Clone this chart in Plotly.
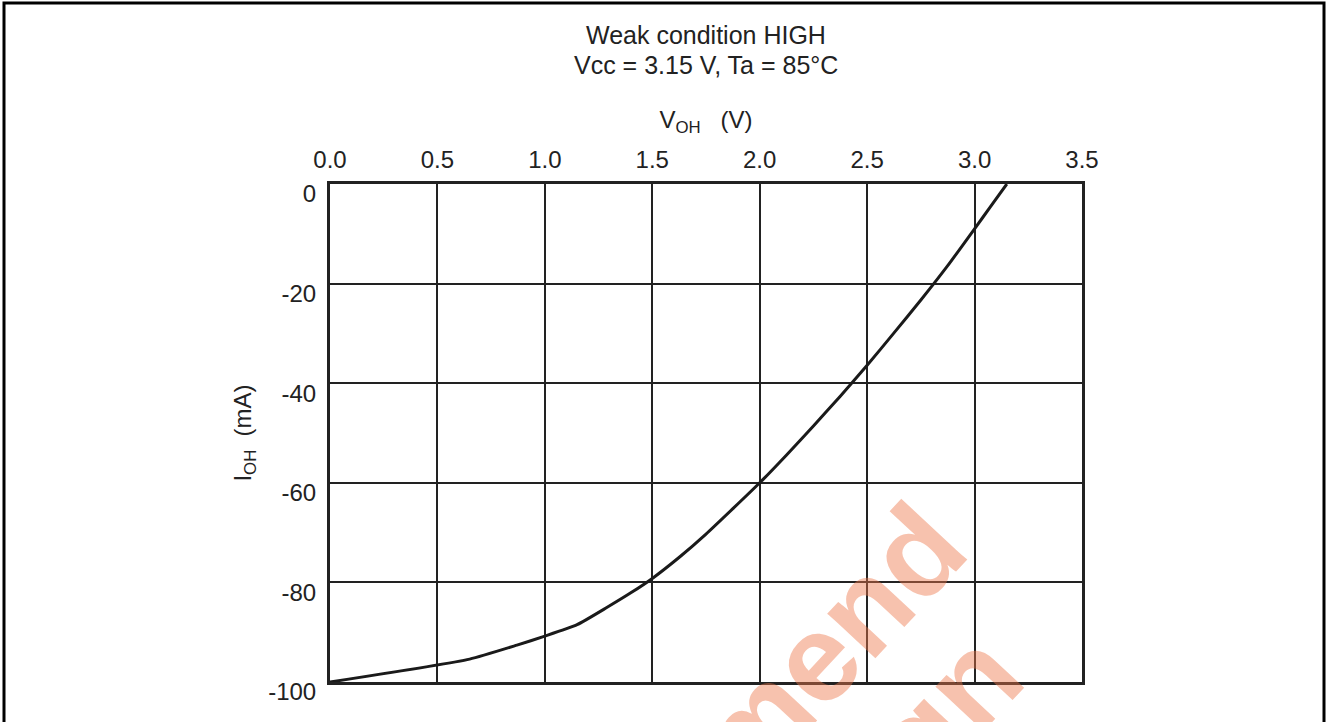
import plotly.graph_objects as go

# Data
v_oh = [0.0, 0.65, 0.87, 1.0, 1.15, 1.29, 1.4, 1.5, 1.63, 1.75, 1.875, 2.0, 2.125, 2.25, 2.375,
        2.5, 2.625, 2.75, 2.875, 3.0, 3.075, 3.15]
i_oh = [-100.0, -95.4, -92.6, -90.8, -88.5, -85.0, -82.1, -79.2, -74.8, -70.3, -65.2, -60.0, -54.4,
        -48.6, -42.6, -36.4, -29.9, -23.3, -16.4, -9.0, -4.5, 0.0]

x_ticks = [0.0, 0.5, 1.0, 1.5, 2.0, 2.5, 3.0, 3.5]
y_ticks = [0, -20, -40, -60, -80, -100]

title_lines = ["Weak condition HIGH", "Vcc = 3.15 V, Ta = 85°C"]
watermark_lines = ["Not Recommend", "for New Design"]

FONT = "Arial, Liberation Sans, sans-serif"
W, H = 1328, 722
L, R, T, B = 330, 246, 184, 40
pw, ph = W - L - R, H - T - B

def px2paper(px, py):
    return (px - L) / pw, (H - B - py) / ph

fig = go.Figure()
fig.add_trace(go.Scatter(x=v_oh, y=i_oh, mode="lines",
                         line=dict(color="#1a1a1a", width=3, shape="spline", smoothing=0.5),
                         showlegend=False, hoverinfo="skip"))

fig.update_layout(
    width=W, height=H,
    margin=dict(l=L, r=R, t=T, b=B, autoexpand=False),
    paper_bgcolor="white", plot_bgcolor="white",
    font=dict(family=FONT, size=24, color="#222"),
    xaxis=dict(side="top", range=[0, 3.5], tickvals=x_ticks,
               ticktext=[f"{t:.1f}" for t in x_ticks],
               tickfont=dict(size=24),
               showgrid=True, gridcolor="#222", gridwidth=2,
               showline=True, linecolor="#222", linewidth=3, mirror=True,
               ticks="outside", ticklen=3, tickcolor="rgba(0,0,0,0)",
               zeroline=False, fixedrange=True,
               title=dict(text="V<sub>OH</sub>   (V)", standoff=12,
                          font=dict(size=24))),
    yaxis=dict(range=[-100, 0], tickvals=y_ticks,
               ticktext=[str(t) for t in y_ticks],
               tickfont=dict(size=24),
               showgrid=True, gridcolor="#222", gridwidth=2,
               showline=True, linecolor="#222", linewidth=3, mirror=True,
               ticks="outside", ticklen=6, tickcolor="rgba(0,0,0,0)",
               ticklabelshift=10,
               zeroline=False, fixedrange=True,
               title=dict(text="I<sub>OH</sub>  (mA)", standoff=10,
                          font=dict(size=24))),
)

# Title lines
for k, line in enumerate(title_lines):
    xp, yp = px2paper(706, 35 + 30 * k)
    fig.add_annotation(text=line, x=0.5, y=yp, xref="paper", yref="paper",
                       xanchor="center", yanchor="middle", showarrow=False,
                       font=dict(size=25, family=FONT, color="#222"))

# Watermark
wm_centers = [(605, 885), (690, 983)]
for line, (cx, cy) in zip(watermark_lines, wm_centers):
    xp, yp = px2paper(cx, cy)
    fig.add_annotation(text=f"<b>{line}</b>", x=xp, y=yp, xref="paper", yref="paper",
                       xanchor="center", yanchor="middle", showarrow=False,
                       textangle=-47,
                       font=dict(size=124, family=FONT, color="rgba(238,120,75,0.45)"))

# Outer frame
x0, y0 = px2paper(4, 3)
x1, y1 = px2paper(1324, 740)
fig.add_shape(type="rect", xref="paper", yref="paper", x0=x0, y0=y1, x1=x1, y1=y0,
              line=dict(color="black", width=3), fillcolor="rgba(0,0,0,0)", layer="above")

fig.write_html("out.html", config={"displayModeBar": False, "staticPlot": True},
               post_script="document.body.style.margin='0';document.body.style.padding='0';")
